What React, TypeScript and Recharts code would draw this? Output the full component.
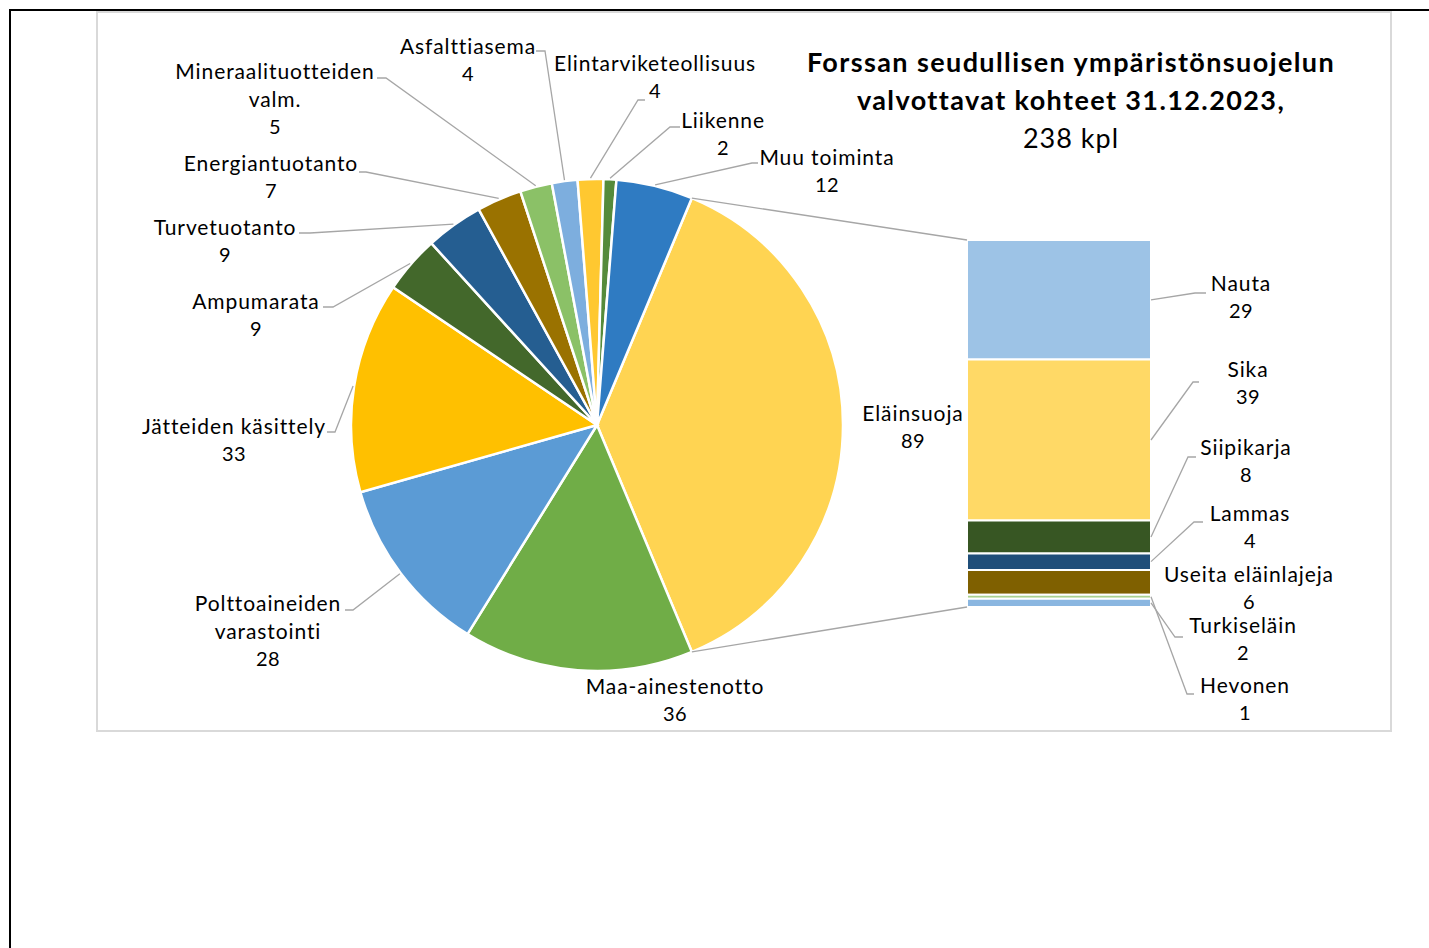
import React from "react"
import { PieChart, Pie, Cell, BarChart, Bar, XAxis, YAxis } from "recharts"

const W = 1429
const H = 948

// main pie slices, clockwise after the combined "Eläinsuoja" slice
const mainNames = [
  "Maa-ainestenotto", "Polttoaineiden varastointi", "Jätteiden käsittely", "Ampumarata",
  "Turvetuotanto", "Energiantuotanto", "Mineraalituotteiden valm.", "Asfalttiasema",
  "Elintarviketeollisuus", "Liikenne", "Muu toiminta",
]
const mainValues = [36, 28, 33, 9, 9, 7, 5, 4, 4, 2, 12]
const mainColors = [
  "#70AD47", "#5B9BD5", "#FFC000", "#43682B", "#255E91", "#9A7200",
  "#8BC167", "#7DAEDE", "#FFC830", "#558B3B", "#2F7BC2",
]

const otherName = "Eläinsuoja"
const otherColor = "#FFD452"

// breakdown of Eläinsuoja, top to bottom
const barNames = ["Nauta", "Sika", "Siipikarja", "Lammas", "Useita eläinlajeja", "Hevonen", "Turkiseläin"]
const barValues = [29, 39, 8, 4, 6, 1, 2]
const barColors = ["#9DC3E6", "#FFD966", "#375623", "#1F4E79", "#7F6000", "#A9D18E", "#8AB6E0"]

const titleLines = ["Forssan seudullisen ympäristönsuojelun", "valvottavat kohteet 31.12.2023,"]
const subtitle = "238 kpl"

// layout
const PIE = { cx: 597, cy: 425, r: 246 }
const BAR = { left: 967, top: 240, width: 184, height: 367 }
const LEADER = "#A6A6A6"
const FONT = "Lato, 'Open Sans', sans-serif"

type Spot = { x: number; y: number; lines?: string[]; tail?: [number, number, number] }

// hand-placed data labels (text centre, first line), tail = [x at label, x at elbow, y]
const pieSpots: Record<string, Spot> = {
  "Eläinsuoja": { x: 913, y: 412 },
  "Maa-ainestenotto": { x: 675, y: 685 },
  "Polttoaineiden varastointi": { x: 268, y: 602, lines: ["Polttoaineiden", "varastointi"], tail: [345, 353, 610] },
  "Jätteiden käsittely": { x: 234, y: 425, tail: [327, 335, 432] },
  "Ampumarata": { x: 256, y: 300, tail: [323, 333, 307] },
  "Turvetuotanto": { x: 225, y: 226, tail: [299, 310, 233] },
  "Energiantuotanto": { x: 271, y: 162, tail: [359, 366, 172] },
  "Mineraalituotteiden valm.": { x: 275, y: 70, lines: ["Mineraalituotteiden", "valm."], tail: [377, 386, 78] },
  "Asfalttiasema": { x: 468, y: 45, tail: [536, 545, 51] },
  "Elintarviketeollisuus": { x: 655, y: 62, tail: [645, 638, 100] },
  "Liikenne": { x: 723, y: 119, tail: [680, 670, 127] },
  "Muu toiminta": { x: 827, y: 156, tail: [758, 752, 163] },
}

const barSpots: Record<string, Spot> = {
  "Nauta": { x: 1241, y: 282, tail: [1206, 1195, 293] },
  "Sika": { x: 1248, y: 368, tail: [1199, 1193, 382] },
  "Siipikarja": { x: 1246, y: 446, tail: [1196, 1188, 457] },
  "Lammas": { x: 1250, y: 512, tail: [1203, 1194, 522] },
  "Useita eläinlajeja": { x: 1249, y: 573 },
  "Turkiseläin": { x: 1243, y: 624, tail: [1183, 1175, 637] },
  "Hevonen": { x: 1245, y: 684, tail: [1194, 1187, 694] },
}

const RAD = Math.PI / 180
const otherValue = barValues.reduce((a, b) => a + b, 0)
const total = otherValue + mainValues.reduce((a, b) => a + b, 0)
const pieData = [
  { name: otherName, value: otherValue, color: otherColor },
  ...mainNames.map((name, i) => ({ name, value: mainValues[i], color: mainColors[i] })),
]
// Excel centres the combined slice on the secondary chart
const startAngle = (otherValue / total) * 180

const barRow: Record<string, number | string> = { name: otherName }
barNames.forEach((n, i) => { barRow[n] = barValues[i] })

function polar(cx: number, cy: number, r: number, angle: number) {
  return { x: cx + r * Math.cos(-angle * RAD), y: cy + r * Math.sin(-angle * RAD) }
}

function LabelText({ spot, lines }: { spot: Spot; lines: string[] }) {
  return (
    <text textAnchor="middle" fontFamily={FONT} fill="#000">
      {lines.map((l, i) => {
        const isValue = i === lines.length - 1
        return (
          <tspan key={i} x={spot.x} y={spot.y + i * 28} dominantBaseline="central"
            fontSize={isValue ? 20 : 21} letterSpacing={isValue ? 0.5 : 0.9}>{l}</tspan>
        )
      })}
    </text>
  )
}

function Leader({ tail, px, py }: { tail?: [number, number, number]; px: number; py: number }) {
  if (!tail) return null
  const [x1, x2, y] = tail
  return <polyline points={`${x1},${y} ${x2},${y} ${px},${py}`} fill="none" stroke={LEADER} strokeWidth={1.3} />
}

function renderPieLabel(props: any) {
  const { cx, cy, midAngle, outerRadius, name, value, percent } = props
  const spot = pieSpots[name]
  if (!spot) return null
  const p = polar(cx, cy, outerRadius + 1, midAngle)
  const lines = [...(spot.lines ?? [name]), String(value)]
  let connectors = null
  if (name === otherName) {
    const half = percent * 180
    const a = polar(cx, cy, outerRadius, midAngle + half)
    const b = polar(cx, cy, outerRadius, midAngle - half)
    connectors = (
      <g>
        <line x1={a.x} y1={a.y} x2={BAR.left} y2={BAR.top} stroke={LEADER} strokeWidth={1.3} />
        <line x1={b.x} y1={b.y} x2={BAR.left} y2={BAR.top + BAR.height} stroke={LEADER} strokeWidth={1.3} />
      </g>
    )
  }
  return (
    <g key={`pl-${name}`}>
      {connectors}
      <Leader tail={spot.tail} px={p.x} py={p.y} />
      <LabelText spot={spot} lines={lines} />
    </g>
  )
}

function makeBarLabel(name: string, value: number) {
  return (props: any) => {
    const { x, y, width, height } = props
    const spot = barSpots[name]
    if (!spot) return null
    const top = Math.min(Number(y), Number(y) + Number(height))
    const h = Math.abs(Number(height))
    return (
      <g key={`bl-${name}`}>
        <Leader tail={spot.tail} px={Number(x) + Number(width)} py={top + h / 2} />
        <LabelText spot={spot} lines={[name, String(value)]} />
      </g>
    )
  }
}

export default function App() {
  return (
    <div style={{ position: "absolute", left: 0, top: 0, width: W, height: H, background: "#fff", overflow: "hidden" }}>
      <div style={{
        position: "absolute", left: 9, top: 9, width: W - 9, height: H - 9,
        borderLeft: "2px solid #000", borderTop: "2px solid #000", boxSizing: "border-box",
      }} />
      <div style={{
        position: "absolute", left: 96, top: 11, width: 1296, height: 721,
        border: "2px solid #D9D9D9", boxSizing: "border-box",
      }} />
      <div style={{ position: "absolute", left: 0, top: 0 }}>
        <BarChart width={W} height={H} data={[barRow]} barCategoryGap={0}
          margin={{ top: BAR.top, left: BAR.left, right: W - BAR.left - BAR.width, bottom: H - BAR.top - BAR.height }}>
          <XAxis dataKey="name" hide />
          <YAxis hide reversed domain={[0, otherValue]} />
          {barNames.map((n, i) => (
            <Bar key={n} dataKey={n} stackId="a" fill={barColors[i]} stroke="#fff" strokeWidth={2}
              isAnimationActive={false} label={makeBarLabel(n, barValues[i])} />
          ))}
        </BarChart>
      </div>
      <div style={{ position: "absolute", left: 0, top: 0 }}>
        <PieChart width={W} height={H} margin={{ top: 0, left: 0, right: 0, bottom: 0 }}>
          <Pie data={pieData} dataKey="value" nameKey="name" cx={PIE.cx} cy={PIE.cy} outerRadius={PIE.r}
            startAngle={startAngle} endAngle={startAngle - 360} stroke="#fff" strokeWidth={2.5}
            label={renderPieLabel} labelLine={false} isAnimationActive={false}>
            {pieData.map((d) => <Cell key={d.name} fill={d.color} />)}
          </Pie>
        </PieChart>
      </div>
      <div style={{
        position: "absolute", left: 760, top: 43, width: 622, textAlign: "center",
        fontFamily: FONT, fontSize: 27, lineHeight: "38px", color: "#000",
      }}>
        {titleLines.map((t) => <div key={t} style={{ fontWeight: 700, letterSpacing: 1.4 }}>{t}</div>)}
        <div style={{ letterSpacing: 1 }}>{subtitle}</div>
      </div>
    </div>
  )
}
